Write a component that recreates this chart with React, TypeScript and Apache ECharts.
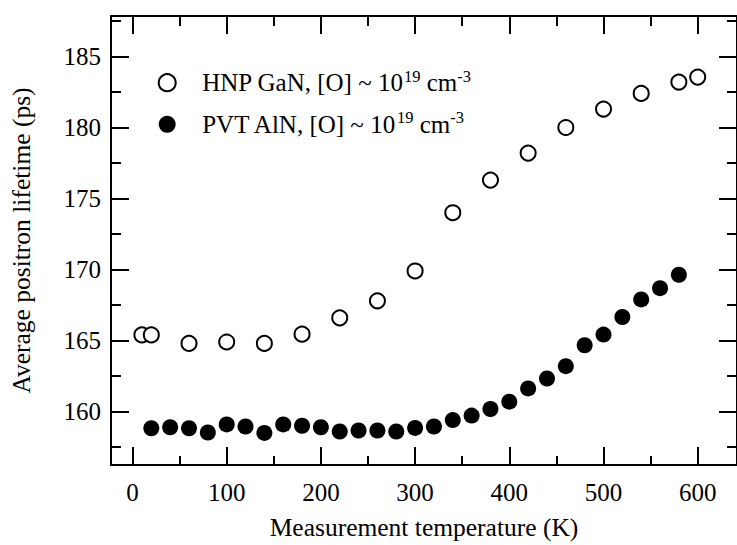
import React, { useEffect, useRef } from "react";
import * as echarts from "echarts";

const tempGaN = [10, 20, 60, 100, 140, 180, 220, 260, 300, 340, 380, 420, 460, 500, 540, 580, 600];
const tauGaN = [165.4, 165.4, 164.8, 164.9, 164.8, 165.45, 166.6, 167.8, 169.9, 174.0, 176.3, 178.2, 180.0, 181.3, 182.4, 183.2, 183.55];

const tempAlN = [20, 40, 60, 80, 100, 120, 140, 160, 180, 200, 220, 240, 260, 280, 300, 320, 340, 360, 380, 400, 420, 440, 460, 480, 500, 520, 540, 560, 580];
const tauAlN = [158.83, 158.9, 158.83, 158.53, 159.1, 158.95, 158.5, 159.1, 159.0, 158.9, 158.6, 158.67, 158.67, 158.6, 158.85, 158.95, 159.4, 159.72, 160.18, 160.7, 161.63, 162.33, 163.2, 164.67, 165.42, 166.66, 167.9, 168.69, 169.63];

const seriesNames = ["HNP GaN", "PVT AlN"];

const xMajorTicks = [0, 100, 200, 300, 400, 500, 600];
const xMinorTicks = [50, 150, 250, 350, 450, 550];
const yMajorTicks = [160, 165, 170, 175, 180, 185];
const yMinorTicks = [157.5, 162.5, 167.5, 172.5, 177.5, 182.5, 187.5];

const xTitle = "Measurement temperature (K)";
const yTitle = "Average positron lifetime (ps)";

const X_MIN = -22.8;
const X_MAX = 641.7;
const Y_MIN = 156.24;
const Y_MAX = 187.85;

const FONT = "'Liberation Serif', 'Times New Roman', serif";

function axis(
  position: string,
  min: number,
  max: number,
  ticks: number[],
  tickLen: number,
  showLine: boolean,
  extra: any = {}
) {
  return {
    type: "value",
    position,
    min,
    max,
    axisLine: { show: showLine, onZero: false, lineStyle: { color: "#000", width: 2 } },
    axisTick: {
      show: true,
      inside: true,
      length: tickLen,
      customValues: ticks,
      lineStyle: { color: "#000", width: 2 },
    },
    axisLabel: { show: false },
    splitLine: { show: false },
    ...extra,
  };
}

export default function App() {
  const ref = useRef<HTMLDivElement>(null);
  useEffect(() => {
    if (!ref.current) return;
    const chart = echarts.init(ref.current, undefined, { renderer: "svg" });
    const labelStyle = {
      show: true,
      customValues: [] as number[],
      color: "#000",
      fontFamily: FONT,
      fontSize: 25,
    };
    chart.setOption({
      animation: false,
      backgroundColor: "#fff",
      grid: { left: 110, top: 16, width: 633, height: 451 },
      legend: {
        orient: "vertical",
        left: 152.7,
        top: 62.7,
        itemWidth: 60,
        itemHeight: 17,
        itemGap: 11.6,
        selectedMode: false,
        data: seriesNames,
        formatter: (name: string) => `${name}, [O] ~ 10{sup|19} cm{sup|-3}`,
        textStyle: {
          fontFamily: FONT,
          fontSize: 25,
          color: "#000",
          lineHeight: 30,
          rich: {
            sup: { fontFamily: FONT, fontSize: 16.5, lineHeight: 12, verticalAlign: "top", color: "#000" },
          },
        },
      },
      xAxis: [
        axis("bottom", X_MIN, X_MAX, xMajorTicks, 18, true, {
          axisLabel: { ...labelStyle, customValues: xMajorTicks, margin: 15 },
          name: xTitle,
          nameLocation: "middle",
          nameGap: 49,
          nameTextStyle: { fontFamily: FONT, fontSize: 25.5, color: "#000" },
        }),
        axis("bottom", X_MIN, X_MAX, xMinorTicks, 9, false),
        axis("top", X_MIN, X_MAX, xMajorTicks, 18, true),
        axis("top", X_MIN, X_MAX, xMinorTicks, 10, false),
      ],
      yAxis: [
        axis("left", Y_MIN, Y_MAX, yMajorTicks, 18, true, {
          axisLabel: { ...labelStyle, customValues: yMajorTicks, margin: 10 },
          name: yTitle,
          nameLocation: "middle",
          nameGap: 77,
          nameTextStyle: { fontFamily: FONT, fontSize: 25.5, color: "#000" },
        }),
        axis("left", Y_MIN, Y_MAX, yMinorTicks, 10, false),
        axis("right", Y_MIN, Y_MAX, yMajorTicks, 18, true),
        axis("right", Y_MIN, Y_MAX, yMinorTicks, 10, false),
      ],
      series: [
        {
          name: seriesNames[0],
          type: "scatter",
          xAxisIndex: 0,
          yAxisIndex: 0,
          symbol: "circle",
          symbolSize: 15,
          itemStyle: { color: "#fff", borderColor: "#000", borderWidth: 2, opacity: 1 },
          data: tempGaN.map((t, i) => [t, tauGaN[i]]),
        },
        {
          name: seriesNames[1],
          type: "scatter",
          xAxisIndex: 0,
          yAxisIndex: 0,
          symbol: "circle",
          symbolSize: 16,
          itemStyle: { color: "#000", opacity: 1 },
          data: tempAlN.map((t, i) => [t, tauAlN[i]]),
        },
      ],
    });
    return () => chart.dispose();
  }, []);
  return (
    <div
      ref={ref}
      style={{ position: "fixed", left: 0, top: 0, width: 737, height: 545, background: "#fff" }}
    />
  );
}
